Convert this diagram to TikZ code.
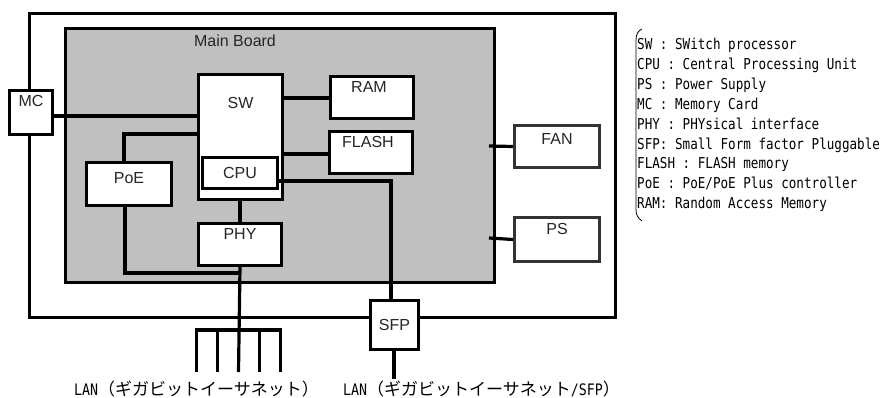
\documentclass[tikz,border=0pt]{standalone}
\usepackage{fontspec}
\setmainfont{Liberation Sans}
\newfontfamily\legfont[FakeStretch=0.84]{DejaVu Sans Mono}
\newfontfamily\jpfont{Noto Sans CJK JP}
\definecolor{boardgray}{HTML}{C0C0C0}
\definecolor{boxdark}{HTML}{333333}
\tikzset{
  box/.style={draw=black, line width=3pt, fill=white, inner sep=0pt, anchor=north west},
  wire/.style={line width=3.2pt},
  lbl/.style={anchor=north, inner sep=0pt, font=\fontsize{16}{19}\selectfont, text=black!85},
  ctr/.style={font=\fontsize{16}{19}\selectfont, text=black!85},
  leg/.style={font=\fontsize{15}{19.9}\legfont, align=left, anchor=north west, inner sep=0pt},
  lan/.style={anchor=west, inner sep=0pt},
}
\begin{document}
\begin{tikzpicture}[x=1pt,y=-1pt]
\useasboundingbox (0,0) rectangle (881,398);
% chassis and board
\node[draw, line width=3pt, minimum width=586pt, minimum height=304pt, anchor=north west, inner sep=0pt] (chassis) at (28,12) {};
\node[draw, line width=2.6pt, fill=boardgray, minimum width=429pt, minimum height=254pt, anchor=north west, inner sep=0pt] (board) at (64,27) {};
\node[ctr] (boardlbl) at (235,41) {Main Board};
% boxes
\node[box, minimum width=84pt, minimum height=125pt, label={[lbl,yshift=-24pt]north:SW}] (sw) at (197,73) {};
\node[box, minimum width=75pt, minimum height=31pt, ctr] (cpu) at (201,156) {CPU};
\node[box, minimum width=83pt, minimum height=42pt, label={[lbl,yshift=-6pt,xshift=-3pt]north:RAM}] (ram) at (329,75) {};
\node[box, minimum width=83pt, minimum height=42pt, label={[lbl,yshift=-6pt,xshift=-3pt]north:FLASH}] (flash) at (328,130) {};
\node[box, minimum width=85pt, minimum height=43pt, label={[lbl,yshift=-11pt]north:PoE}] (poe) at (85,161) {};
\node[box, minimum width=83pt, minimum height=42pt, label={[lbl,yshift=-6pt]north:PHY}] (phy) at (197,222) {};
\node[box, draw=boxdark, minimum width=85pt, minimum height=42pt, label={[lbl,yshift=-9pt]north:FAN}] (fan) at (513,124) {};
\node[box, draw=boxdark, minimum width=85pt, minimum height=44pt, label={[lbl,yshift=-7pt]north:PS}] (ps) at (513,216) {};
\node[box, minimum width=48pt, minimum height=49pt, ctr] (sfp) at (369,299) {SFP};
\node[box, minimum width=43pt, minimum height=44pt, label={[lbl,yshift=-6pt]north:MC}] (mc) at (8,89) {};
% coordinates
\coordinate (poej) at (238.5,273);
\coordinate (forkbar) at (238.5,330);
\coordinate (p1) at (196.5,372);
\coordinate (p2) at (217.5,372);
\coordinate (p3) at (238.5,372);
\coordinate (p4) at (259.5,372);
\coordinate (p5) at (280.5,372);
\coordinate (fanj) at (489,146);
\coordinate (psj) at (489,238);
\coordinate (sfpend) at (394,379);
% wires
\draw[wire] (mc.east |- 0,116) -- (sw.west |- 0,116);
\draw[wire] (sw.east |- 0,98) -- (ram.west |- 0,98);
\draw[wire] (sw.east |- 0,154) -- (flash.west |- 0,154);
\draw[wire] (sw.west |- 0,134) -| (124,0 |- poe.north);
\draw[wire] (cpu.east |- 0,181) -| (391,0 |- sfp.north);
\draw[wire] (phy.north) -- (phy.north |- sw.south);
\draw[wire] (phy.south) -- (p3);
\draw[wire] (poe.south -| 125,0) |- (poej);
\draw[wire] (p1) |- (p5 |- forkbar) -- (p5);
\draw[wire] (p2) -- (p2 |- forkbar);
\draw[wire] (p4) -- (p4 |- forkbar);
\draw[wire] (fanj) -- (fan.west);
\draw[wire] (psj) -- (ps.west);
\draw[wire] (sfp.south -| sfpend) -- (sfpend);
% LAN labels
\node[lan] (lan1) at (74,389) {{\fontsize{15.8}{19}\legfont LAN}{\fontsize{17}{19}\jpfont （ギガビットイーサネット）}};
\node[lan] (lan2) at (343,389) {{\fontsize{15.8}{19}\legfont LAN}{\fontsize{17}{19}\jpfont （ギガビットイーサネット}{\fontsize{15.8}{19}\legfont /SFP}{\fontsize{17}{19}\jpfont ）}};
% legend
\node[leg] (legend) at (637,38) {SW : SWitch processor\\
CPU : Central Processing Unit\\
PS : Power Supply\\
MC : Memory Card\\
PHY : PHYsical interface\\
SFP: Small Form factor Pluggable\\
FLASH : FLASH memory\\
PoE : PoE/PoE Plus controller\\
RAM: Random Access Memory};
\draw[line width=0.8pt] (642,29) .. controls (638,31) and (636,34) .. (636,40) -- (636,210) .. controls (636,215) and (638,218) .. (642,221);
\end{tikzpicture}
\end{document}
